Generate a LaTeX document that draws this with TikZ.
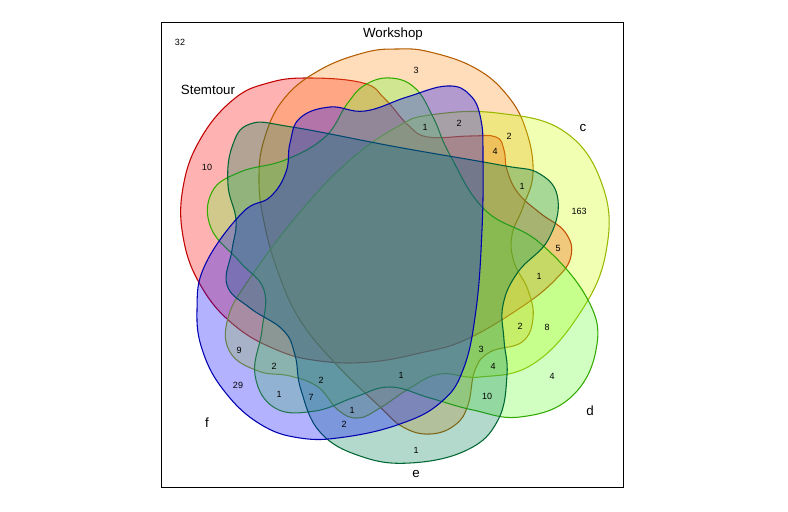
\documentclass[tikz,border=0pt]{standalone}
\usepackage{fontspec}
\setmainfont{Liberation Sans}

\definecolor{stemfill}{HTML}{FF0000}
\definecolor{stemline}{HTML}{C00000}
\definecolor{workfill}{HTML}{FF8C1A}
\definecolor{workline}{HTML}{B35C00}
\definecolor{cfill}{HTML}{CCFF00}
\definecolor{cline}{HTML}{99B800}
\definecolor{dfill}{HTML}{66FF33}
\definecolor{dline}{HTML}{33AA00}
\definecolor{efill}{HTML}{008055}
\definecolor{eline}{HTML}{006633}
\definecolor{ffill}{HTML}{0000FF}
\definecolor{fline}{HTML}{0000B0}

\tikzset{
	venn/.style={line width=0.8pt, fill opacity=0.3},
	num/.style={font=\fontsize{6.75}{8}\selectfont, inner sep=0pt},
	setname/.style={font=\fontsize{10}{12}\selectfont, inner sep=0pt}
}

\begin{document}
\begin{tikzpicture}[x=0.75pt,y=-0.75pt]
			\useasboundingbox (0,0) rectangle (788,511);
			\draw[line width=0.8pt] (161.5,22.5) rectangle (623.5,487.5);

			% Stemtour
			\draw[venn,draw=stemline,fill=stemfill] plot[smooth cycle,tension=0.7] coordinates {
				(308,78) (363,83) (385,99) (408,125) (428,137) (470,136) (496,137) (504,150)
				(507,170) (518,193) (540,213) (565,232) (571,256) (555,280) (520,308)
				(465,340) (420,353) (370,362) (320,361) (277,350) (233.5,324.6) (200.7,285.5)
				(183.2,237.5) (183.2,186.5) (200.7,138.5) (233.5,99.4) (268,83)};
			% Workshop
			\draw[venn,draw=workline,fill=workfill] plot[smooth cycle,tension=0.7] coordinates {
				(363,53) (397,49) (430,52) (475,68) (507,95) (526,130) (533,173) (523,207)
				(512,235) (514,262) (528,290) (533,318) (522,342) (490,352) (475,370) (468,405)
				(455,425) (430,434) (403,427) (378,405) (335,363) (300,320) (278,272) (264,222)
				(259,180) (264,140) (283,100) (318,71)};
			% c
			\draw[venn,draw=cline,fill=cfill] plot[smooth cycle,tension=0.7] coordinates {
				(397,127) (430,115) (497,113) (565,132) (603,187) (606,252) (580,313) (533,364)
				(480,377) (440,374) (410,388) (380,408) (358,418) (338,410) (318,387) (290,376)
				(258,371) (230,352) (228,318) (250,278) (300,212) (350,160)};
			% d
			\draw[venn,draw=dline,fill=dfill] plot[smooth cycle,tension=0.7] coordinates {
				(365,85) (390,78) (415,88) (433,117) (450,155) (485,210) (540,243) (588,300)
				(596,350) (570,398) (520,417) (473,410) (430,398) (390,387) (355,397)
				(315,411) (275,408) (255,375) (262,330) (264,290) (240,262) (211,228)
				(212,192) (240,172) (285,160) (325,137) (347,104)};
			% e
			\draw[venn,draw=eline,fill=efill] plot[smooth cycle,tension=0.7] coordinates {
				(292,127) (397,147) (500,165) (540,174) (558,200) (548,240) (518,272) (503,305)
				(504,340) (507,375) (498,420) (467,450) (410,463) (360,456) (320,432) (301,390)
				(295,355) (283,330) (250,308) (227,285) (232,250) (236,220) (228,185) (232,147)
				(250,124)};
			% f
			\draw[venn,draw=fline,fill=ffill] plot[smooth cycle,tension=0.7] coordinates {
				(330,107) (365,111) (407,97) (447,86) (470,95) (481,120) (483,160) (482,230)
				(476,310) (463,370) (440,403) (400,424) (345,437) (300,438) (260,424) (225,392)
				(203,352) (197,310) (205,265) (242,213) (270,197) (286,172) (290,143) (300,118)};

			\node[setname] (stemtour) at (208,90) {Stemtour};
			\node[setname] (workshop) at (393,34) {Workshop};
			\node[setname] (c) at (583,128) {c};
			\node[setname] (d) at (590,411) {d};
			\node[setname] (e) at (416,474) {e};
			\node[setname] (f) at (207,423) {f};

			\foreach \px/\py/\txt [count=\i] in {180/42/32, 416/70/3, 425/127/1, 459/123/2,
				509/136/2, 495/151/4, 207/167/10, 522/186/1, 579/211/163, 558/248/5,
				539/276/1, 520/326/2, 547/327/8, 239/350/9, 481/349/3, 274/366/2,
				493/366/4, 401/375/1, 321/380/2, 552/376/4, 238/385/29, 279/394/1,
				311/397/7, 487/396/10, 352/410/1, 344/424/2, 416/450/1} {
				\node[num] (n\i) at (\px,\py) {\txt};
			}
		\end{tikzpicture}
\end{document}
